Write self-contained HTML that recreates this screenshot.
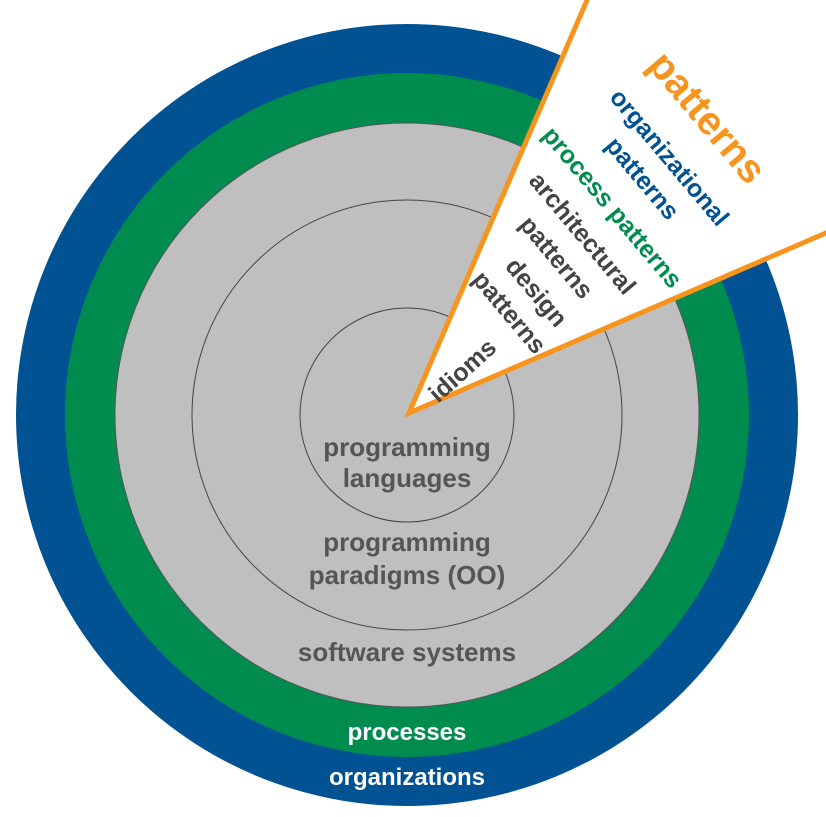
<!DOCTYPE html>
<html><head><style>
html,body{margin:0;padding:0;background:#fff;}
svg{display:block;}
text{font-family:"Liberation Sans",Arial,sans-serif;font-weight:bold;}
</style></head><body>
<svg width="826" height="817" viewBox="0 0 826 817" xmlns="http://www.w3.org/2000/svg">
<circle cx="407" cy="415" r="391" fill="#005293"/>
<circle cx="407" cy="415" r="342" fill="#008c4e"/>
<circle cx="407" cy="415" r="292" fill="#bfbfbf" stroke="#555" stroke-width="1"/>
<circle cx="407" cy="415" r="215" fill="none" stroke="#444" stroke-width="1"/>
<circle cx="407" cy="415" r="107" fill="none" stroke="#444" stroke-width="1"/>
<polygon points="409,413 600,-30 900,-30 900,201" fill="#fff" stroke="#f7941d" stroke-width="5" stroke-linejoin="miter"/>
<g fill="#555" font-size="26" text-anchor="middle">
<text x="407" y="456">programming</text>
<text x="407" y="487">languages</text>
<text x="407" y="551">programming</text>
<text x="407" y="584">paradigms (OO)</text>
<text x="407" y="661">software systems</text>
</g>
<g fill="#fff" font-size="24" text-anchor="middle">
<text x="407" y="740">processes</text>
<text x="407" y="785">organizations</text>
</g>
<g fill="#444" font-size="25" text-anchor="middle">
<text transform="translate(462,370) rotate(-42)" y="9">idioms</text>
<text transform="translate(537,292) rotate(50)" y="9">design</text>
<text transform="translate(510,312) rotate(50)" y="9">patterns</text>
<text transform="translate(583,233) rotate(50)" y="9">architectural</text>
<text transform="translate(557,257) rotate(50)" y="9">patterns</text>
</g>
<text transform="translate(613,207) rotate(50)" y="9" fill="#008c4e" font-size="25" text-anchor="middle">process patterns</text>
<text transform="translate(670,157) rotate(50)" y="9" fill="#005293" font-size="25" text-anchor="middle">organizational</text>
<text transform="translate(643,178) rotate(50)" y="9" fill="#005293" font-size="25" text-anchor="middle">patterns</text>
<text transform="translate(708,117) rotate(50)" y="14" fill="#f7941d" font-size="40" text-anchor="middle">patterns</text>
</svg>
</body></html>
